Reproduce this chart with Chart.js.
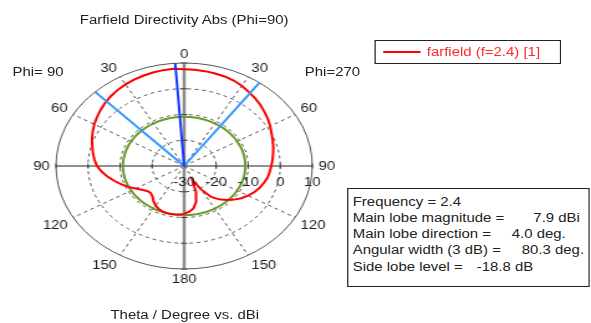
<!DOCTYPE html>
<html>
<head>
<meta charset="utf-8">
<script src="https://cdn.jsdelivr.net/npm/chart.js@4/dist/chart.umd.min.js"></script>
<style>
  html, body { margin: 0; padding: 0; background: #fff; overflow: hidden; }
  #wrap {
    position: absolute; left: 0; top: 0; width: 475px; height: 323px;
    transform: scaleX(1.2442); transform-origin: 0 0;
    font-family: "Liberation Sans", Arial, sans-serif; font-size: 12px; color: #222;
  }
  #wrap canvas { position: absolute; left: 0; top: 0; }
  .txt { position: absolute; white-space: pre; line-height: 14px; }
  .box { position: absolute; box-sizing: border-box; border: 1.5px solid #222; background: #fff; }
</style>
</head>
<body>
<div id="wrap">
  <canvas id="chart" width="475" height="323"></canvas>
  <div class="txt" style="left:0;width:296px;text-align:center;top:13px">Farfield Directivity Abs (Phi=90)</div>
  <div class="txt" style="left:10px;top:65px">Phi= 90</div>
  <div class="txt" style="left:245px;top:65px">Phi=270</div>

  <div class="box" style="left:301px;top:40px;width:150px;height:24px">
    <div style="position:absolute;left:6px;top:10px;width:30px;height:2px;background:#ff0000"></div>
    <div class="txt" id="legendText" style="left:41px;top:3.5px;color:#ff2a2a"></div>
  </div>

  <div class="box" style="left:278.7px;top:188.3px;width:195px;height:98.5px"></div>
  <div id="info"></div>

  <div class="txt" style="left:0;width:297px;text-align:center;top:308px">Theta / Degree vs. dBi</div>
</div>

<script>
// Farfield directivity cut, Phi = 90 / 270 plane, f = 2.4
const THETA = [0, 5, 10, 15, 20, 25, 30, 35, 40, 45, 50, 55, 60, 65, 70, 75, 80, 85, 90,
               95, 100, 105, 110, 115, 120, 125, 130, 135, 140, 145, 150, 155, 160, 165, 170, 175, 180];

// Directivity (dBi) on the Phi=270 half (drawn on the right)
const PHI_270 = [7.6, 7.5, 7.4, 7.2, 7.0, 6.6, 6.0, 5.1, 4.4, 3.6, 2.7, 1.9, 1.0, 0.1, -0.6, -1.2, -1.8, -2.3, -2.8,
                 -3.2, -3.6, -4.3, -5.0, -5.9, -7.0, -8.2, -9.7, -11.3, -13.1, -15.3, -19.6, -24.0, -19.2, -15.6, -13.3, -12.2, -11.4];

// Directivity (dBi) on the Phi=90 half (drawn on the left)
const PHI_90 = [7.6, 7.9, 7.8, 7.6, 7.3, 7.0, 6.6, 6.1, 5.5, 4.8, 4.0, 3.2, 2.4, 1.5, 0.6, -0.3, -1.1, -1.9, -2.8,
                -4.2, -5.8, -7.5, -9.2, -10.8, -12.5, -13.9, -14.9, -15.2, -14.6, -13.3, -12.2, -11.5, -11.0, -10.9, -11.0, -11.1, -11.4];

const RING_TICKS = [-30, -20, -10, 0, 10];
const ANGLE_TICKS = ['0', '30', '60', '90', '120', '150', '180', '150', '120', '90', '60', '30'];

const FREQUENCY = 2.4;
const MAIN_LOBE_MAG = 7.9;     // dBi
const MAIN_LOBE_DIR = 4.0;     // deg, towards Phi=90
const BEAM_WIDTH_3DB = 80.3;   // deg
const SIDE_LOBE_LEVEL = -18.8; // dB relative to main lobe

const R_MIN = RING_TICKS[0];
const R_MAX = RING_TICKS[RING_TICKS.length - 1];

// 1-degree angular grid, clockwise from the top
const N = 360;
const labels = Array.from({ length: N }, (_, i) => String(i));

const curve = new Array(N).fill(null);
THETA.forEach((t, k) => {
  curve[t % N] = PHI_270[k];
  curve[(N - t) % N] = PHI_90[k];
});

// Side lobe reference level circle
const sideLobe = new Array(N).fill(MAIN_LOBE_MAG + SIDE_LOBE_LEVEL);

// Radial ray from the centre to the outer ring at a signed angle (negative = Phi=90 side)
function addRay(arr, deg) {
  const i = ((Math.round(deg) % N) + N) % N;
  arr[(i - 1 + N) % N] = R_MIN;
  arr[i] = R_MAX;
  return arr;
}
const mainDir = addRay(new Array(N).fill(null), -MAIN_LOBE_DIR);
const beamEdges = new Array(N).fill(null);
addRay(beamEdges, -MAIN_LOBE_DIR - BEAM_WIDTH_3DB / 2);
addRay(beamEdges, -MAIN_LOBE_DIR + BEAM_WIDTH_3DB / 2);

// Text panels
document.getElementById('legendText').textContent = 'farfield (f=' + FREQUENCY + ') [1]';
const infoRows = [
  { top: 194.7, parts: [[283.5, 'Frequency = ' + FREQUENCY]] },
  { top: 210.9, parts: [[283.5, 'Main lobe magnitude ='], [428.7, MAIN_LOBE_MAG.toFixed(1) + ' dBi']] },
  { top: 227.1, parts: [[283.5, 'Main lobe direction ='], [411.3, MAIN_LOBE_DIR.toFixed(1) + ' deg.']] },
  { top: 243.3, parts: [[283.5, 'Angular width (3 dB) ='], [419.4, BEAM_WIDTH_3DB.toFixed(1) + ' deg.']] },
  { top: 259.5, parts: [[283.5, 'Side lobe level ='], [383.2, SIDE_LOBE_LEVEL.toFixed(1) + ' dB']] }
];
const info = document.getElementById('info');
infoRows.forEach(row => row.parts.forEach(([x, s]) => {
  const d = document.createElement('div');
  d.className = 'txt';
  d.style.left = x + 'px';
  d.style.top = row.top + 'px';
  d.textContent = s;
  info.appendChild(d);
}));

// Ring values, theta labels and axis tick marks
const polarText = {
  id: 'polarText',
  afterDraw(chart) {
    const s = chart.scales.r;
    const ctx = chart.ctx;
    const cx = s.xCenter, cy = s.yCenter, R = s.drawingArea;
    ctx.save();

    ctx.strokeStyle = '#444';
    ctx.lineWidth = 1;
    RING_TICKS.slice(1).forEach(v => {
      const d = s.getDistanceFromCenterForValue(v);
      ctx.beginPath();
      ctx.moveTo(cx + d, cy - 2.5); ctx.lineTo(cx + d, cy + 2.5);
      ctx.moveTo(cx - d, cy - 2.5); ctx.lineTo(cx - d, cy + 2.5);
      ctx.moveTo(cx - 2.5, cy + d); ctx.lineTo(cx + 2.5, cy + d);
      ctx.moveTo(cx - 2.5, cy - d); ctx.lineTo(cx + 2.5, cy - d);
      ctx.stroke();
    });

    ctx.font = '12px "Liberation Sans", Arial, sans-serif';
    ctx.fillStyle = '#222';
    ctx.textAlign = 'center';
    ctx.textBaseline = 'middle';
    RING_TICKS.forEach(v => {
      const p = s.getPointPositionForValue(90, v);
      ctx.fillText(String(v), p.x, cy + 16.5);
    });

    ctx.textBaseline = 'alphabetic';
    ANGLE_TICKS.forEach((txt, k) => {
      const deg = k * 30;
      const p = s.getPointPosition(deg, R + 5);
      let y = p.y;
      if (deg === 0 || deg === 180) ctx.textAlign = 'center';
      else ctx.textAlign = deg < 180 ? 'left' : 'right';
      if (deg === 90 || deg === 270) y += 4.3;
      else if (deg > 90 && deg < 270) y += 9.2;
      ctx.fillText(txt, p.x, y);
    });
    ctx.restore();
  }
};

const noPoints = { pointRadius: 0, pointHoverRadius: 0, pointHitRadius: 0, fill: false };

new Chart(document.getElementById('chart'), {
  type: 'radar',
  data: {
    labels: labels,
    datasets: [
      Object.assign({ label: 'main lobe direction', data: mainDir, borderColor: '#1436ff', borderWidth: 2, spanGaps: false }, noPoints),
      Object.assign({ label: '3 dB beam width', data: beamEdges, borderColor: '#3399ff', borderWidth: 2, spanGaps: false }, noPoints),
      Object.assign({ label: 'farfield (f=2.4) [1]', data: curve, borderColor: '#ff0000', borderWidth: 2, spanGaps: true, tension: 0 }, noPoints),
      Object.assign({ label: 'side lobe level', data: sideLobe, borderColor: '#6b9a2c', borderWidth: 2, spanGaps: true }, noPoints)
    ]
  },
  options: {
    responsive: false,
    animation: false,
    events: [],
    layout: { padding: { left: 44.8, top: 63.3, right: 223.4, bottom: 52.9 } },
    plugins: { legend: { display: false }, title: { display: false }, tooltip: { enabled: false } },
    scales: {
      r: {
        min: R_MIN,
        max: R_MAX,
        startAngle: 0,
        ticks: { display: false, stepSize: 10 },
        pointLabels: { display: false },
        grid: {
          circular: true,
          color: '#555',
          lineWidth: ctx => (ctx.tick && ctx.tick.value === R_MIN) ? 0 : 1
        },
        border: {
          dash: ctx => (ctx.tick && ctx.tick.value === R_MAX) ? [] : [3, 3]
        },
        angleLines: {
          display: true,
          color: ctx => {
            if (ctx.index === 0 || ctx.index === 180) return '#8c8c8c';
            if (ctx.index === 90 || ctx.index === 270) return '#222';
            return '#555';
          },
          lineWidth: ctx => {
            if (ctx.index % 30 !== 0) return 0;
            if (ctx.index === 0 || ctx.index === 180) return 2.5;
            return 1;
          },
          borderDash: ctx => (ctx.index % 90 === 0) ? [] : [3, 3]
        }
      }
    }
  },
  plugins: [polarText]
});
</script>
</body>
</html>
